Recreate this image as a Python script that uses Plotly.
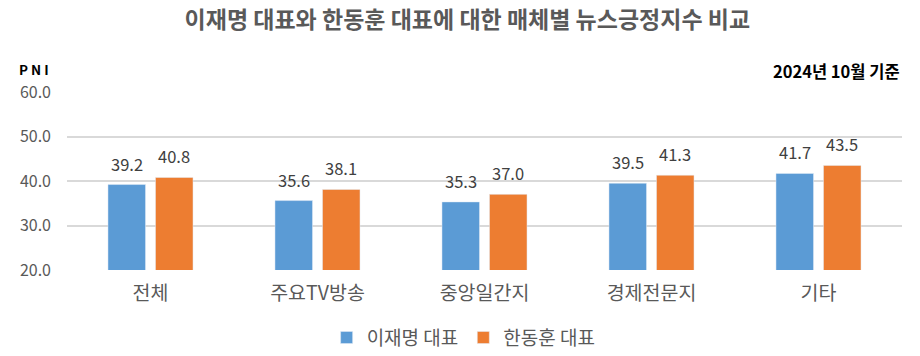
import plotly.graph_objects as go

categories = ["전체", "주요TV방송", "중앙일간지", "경제전문지", "기타"]
lee = [39.2, 35.6, 35.3, 39.5, 41.7]
han = [40.8, 38.1, 37.0, 41.3, 43.5]
series_names = ["이재명 대표", "한동훈 대표"]
tick_vals = [20, 30, 40, 50, 60]
tick_text = ["20.0", "30.0", "40.0", "50.0", "60.0"]

FONT = "Noto Sans CJK KR"
COLORS = ["#5B9BD5", "#ED7D31"]
BARGAP = 0.431
PLOT_W = 920 - 67 - 18
CAT_W = PLOT_W / len(categories)
SLOT = CAT_W * (1 - BARGAP) / 2

fig = go.Figure()
annotations = []
for i, (name, vals) in enumerate([(series_names[0], lee), (series_names[1], han)]):
    fig.add_trace(go.Bar(x=categories, y=vals, name=name, marker_color=COLORS[i]))
    for c, v in zip(categories, vals):
        annotations.append(dict(
            x=c, y=v, xref="x", yref="y", text=f"{v:.1f}", showarrow=False,
            xshift=(i - 0.5) * SLOT, yshift=21, yanchor="middle",
            font=dict(size=16.5, color="#404040", family=FONT)))

annotations.append(dict(text="<b>P N I</b>", x=-0.06, y=1.132, xref="paper", yref="paper",
                        xanchor="left", yanchor="middle", showarrow=False,
                        font=dict(size=13.5, color="#000000", family=FONT)))
annotations.append(dict(text="<b>2024년 10월 기준</b>", x=1.0, y=1.118, xref="paper", yref="paper",
                        xanchor="right", yanchor="middle", showarrow=False,
                        font=dict(size=16.5, color="#000000", family=FONT)))

fig.update_layout(
    width=920, height=356,
    margin=dict(l=67, r=18, t=92, b=86, autoexpand=False),
    paper_bgcolor="white", plot_bgcolor="white",
    font=dict(family=FONT),
    title=dict(text="<b>이재명 대표와 한동훈 대표에 대한 매체별 뉴스긍정지수 비교</b>",
               x=0.508, xanchor="center", y=0.945, yanchor="middle",
               font=dict(size=23, color="#595959", family=FONT)),
    barmode="group", bargap=BARGAP, bargroupgap=0.21,
    showlegend=True,
    legend=dict(orientation="h", x=0.475, xanchor="center", y=-0.38, yanchor="middle",
                font=dict(size=19, color="#595959", family=FONT), traceorder="normal",
                itemwidth=30),
    yaxis=dict(range=[20, 60], tickvals=tick_vals, ticktext=tick_text,
               showgrid=True, gridcolor="#D9D9D9", gridwidth=2,
               zeroline=False, tickfont=dict(size=16, color="#595959", family=FONT),
               ticks="", ticklabelstandoff=15),
    xaxis=dict(tickfont=dict(size=19.5, color="#595959", family=FONT), showline=False, ticks="",
               ticklabelstandoff=9),
    annotations=annotations,
)
fig.write_html("out.html", config={"displayModeBar": False},
               post_script="document.body.style.margin='0';document.body.style.overflow='hidden';")
